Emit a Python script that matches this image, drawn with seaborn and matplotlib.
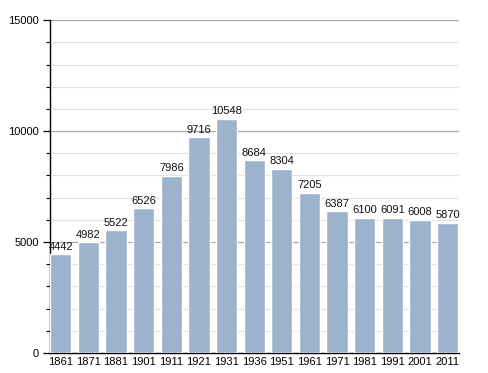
import matplotlib
matplotlib.use("Agg")
import matplotlib.pyplot as plt
from matplotlib.ticker import MultipleLocator
import seaborn as sns
import pandas as pd

# ── DATA ──────────────────────────────────────────────────────────────────────
years = ["1861", "1871", "1881", "1901", "1911", "1921", "1931", "1936",
         "1951", "1961", "1971", "1981", "1991", "2001", "2011"]
population = [4442, 4982, 5522, 6526, 7986, 9716, 10548, 8684,
              8304, 7205, 6387, 6100, 6091, 6008, 5870]

df = pd.DataFrame({"Year": years, "Population": population})

# ── PLOT ──────────────────────────────────────────────────────────────────────
sns.set_theme(style="white")
plt.rcParams["font.family"] = ["Liberation Sans", "DejaVu Sans"]

fig = plt.figure(figsize=(4.88, 3.73), dpi=100)
ax = fig.add_axes([0.1025, 0.0536, 0.838, 0.8924])

sns.barplot(data=df, x="Year", y="Population", color="#9db3cd",
            saturation=1, width=0.77, ax=ax, zorder=3)

for i, val in enumerate(population):
    ax.text(i, val + 120, str(val), ha="center", va="bottom",
            fontsize=8, color="#111111", zorder=4)

ax.set_ylim(0, 15000)
ax.set_xlim(-0.39, 14.41)
ax.yaxis.set_major_locator(MultipleLocator(5000))
ax.yaxis.set_minor_locator(MultipleLocator(1000))
ax.grid(which="major", axis="y", color="#a8a8a8", linewidth=0.9, zorder=0)
ax.grid(which="minor", axis="y", color="#e2e2e2", linewidth=0.9, zorder=0)

for side in ["top", "right"]:
    ax.spines[side].set_visible(False)
for side in ["left", "bottom"]:
    ax.spines[side].set_color("black")
    ax.spines[side].set_linewidth(1.0)

ax.tick_params(axis="y", which="major", left=True, length=5, width=0.9,
               labelsize=8, colors="black", pad=3)
ax.tick_params(axis="y", which="minor", left=True, length=3, width=0.8,
               colors="black")
ax.tick_params(axis="x", length=0, labelsize=8, colors="black", pad=3)
ax.set_xlabel("")
ax.set_ylabel("")

plt.savefig("out.png", dpi=100)
plt.close()
